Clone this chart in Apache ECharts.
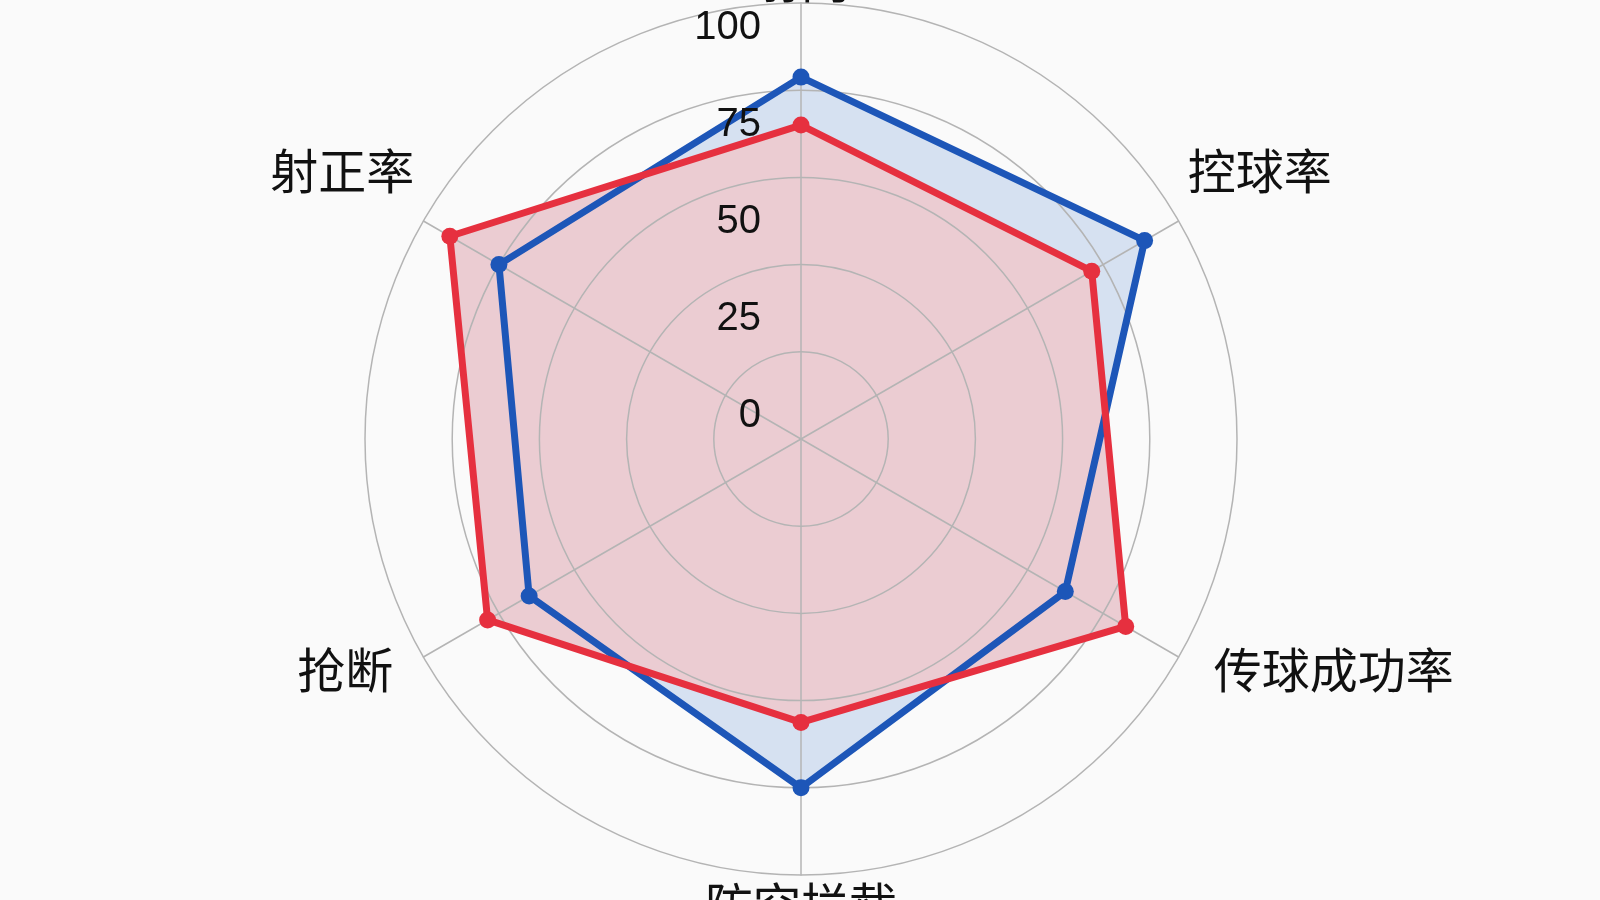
<!DOCTYPE html>
<html><head><meta charset="utf-8">
<script src="https://cdn.jsdelivr.net/npm/echarts@6/dist/echarts.min.js"></script>
<style>html,body{margin:0;padding:0;background:#fafafa}#c{width:1600px;height:900px}</style>
</head><body><div id="c"></div>
<script>
// indicators in ECharts order (counter-clockwise from top)
const indicators = ['射门', '射正率', '抢断', '防空拦截', '传球成功率', '控球率'];
const teamBlue = [83, 80, 72, 80, 70, 91];
const teamRed = [72, 93, 83, 65, 86, 77];
const tickValues = [0, 25, 50, 75, 100];
const nameStyleKey = { '射门': 'top', '射正率': 'up', '控球率': 'up', '抢断': 'll', '传球成功率': 'lr' };

const maxV = tickValues[tickValues.length - 1];
const BLUE = '#1d56b8', RED = '#e6303f';
const chart = echarts.init(document.getElementById('c'));
const nameFont = { fontSize: 48, fontFamily: 'Noto Sans CJK SC', color: '#111' };

const option = {
  backgroundColor: '#fafafa',
  animation: false,
  radar: [{
    z: 2,
    center: [801, 439],
    radius: 436,
    startAngle: 90,
    shape: 'circle',
    splitNumber: 5,
    indicator: indicators.map(n => ({ name: n, min: 0, max: maxV })),
    axisNameGap: 6,
    axisName: Object.assign({}, nameFont, {
      formatter: n => '{' + (nameStyleKey[n] || 'n') + '|' + n + '}',
      rich: {
        n: Object.assign({}, nameFont),
        top: Object.assign({ lineHeight: 34 }, nameFont),
        up: Object.assign({ padding: [0, 4, 94, 4] }, nameFont),
        ll: Object.assign({ padding: [20, 25, 0, 0] }, nameFont),
        lr: Object.assign({ padding: [20, 0, 0, 30] }, nameFont)
      }
    }),
    axisLine: { lineStyle: { color: '#b4b4b4', width: 1.5 } },
    splitLine: { lineStyle: { color: '#b4b4b4', width: 1.5 } },
    splitArea: { show: false },
    axisTick: { show: false },
    axisLabel: { show: false }
  }, {
    z: 5,
    center: [801, 416],
    radius: 388,
    startAngle: 90,
    shape: 'circle',
    splitNumber: tickValues.length - 1,
    indicator: indicators.map((n, i) => ({ name: n, min: 0, max: maxV, axisLabel: { show: i === 0 } })),
    axisName: { show: false },
    axisLine: { show: false },
    splitLine: { show: false },
    splitArea: { show: false },
    axisTick: { show: false },
    axisLabel: { show: true, color: '#111', fontSize: 40, margin: 40, fontFamily: 'Liberation Sans' }
  }],
  series: [{
    type: 'radar',
    radarIndex: 0,
    z: 1,
    symbol: 'none',
    silent: true,
    data: [
      { value: teamBlue, name: 'blue', lineStyle: { width: 0, opacity: 0 }, areaStyle: { color: '#d6e1f1', opacity: 1 } },
      { value: teamRed, name: 'red', lineStyle: { width: 0, opacity: 0 }, areaStyle: { color: '#ebccd2', opacity: 1 } }
    ]
  }, {
    type: 'radar',
    radarIndex: 0,
    z: 3,
    symbol: 'circle',
    symbolSize: 17,
    data: [
      { value: teamBlue, name: 'blue', lineStyle: { color: BLUE, width: 7 }, itemStyle: { color: BLUE } },
      { value: teamRed, name: 'red', lineStyle: { color: RED, width: 7 }, itemStyle: { color: RED } }
    ]
  }]
};
chart.setOption(option);
</script>
</body></html>
